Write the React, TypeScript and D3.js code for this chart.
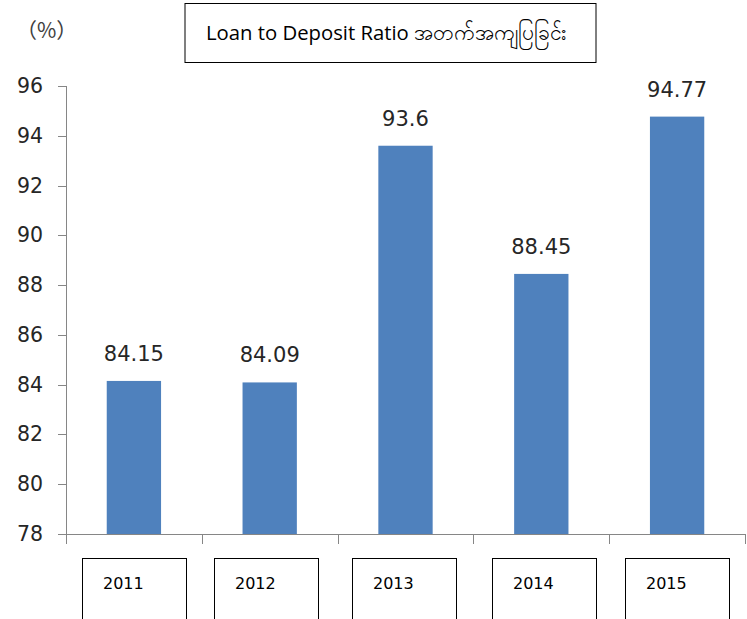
import React from "react";
import * as d3 from "d3";

const years = ["2011", "2012", "2013", "2014", "2015"];
const ratios = [84.15, 84.09, 93.6, 88.45, 94.77];
const valueLabels = ["84.15", "84.09", "93.6", "88.45", "94.77"];
const yTicks = [78, 80, 82, 84, 86, 88, 90, 92, 94, 96];
const titleEn = "Loan to Deposit Ratio ";
const titleMy = "အတက်အကျပြခြင်း";
const unitText = "（%）";

export default function App() {
  const W = 747, H = 619;
  const x = d3.scaleBand<string>().domain(years).range([66, 745]).paddingInner(0.6).paddingOuter(0.3);
  const y = d3.scaleLinear().domain([78, 96]).range([534, 86]);
  const step = x.step();
  const axisColor = "#868686";
  const font = "'DejaVu Sans', Verdana, sans-serif";
  const boundaries = d3.range(years.length + 1).map((i) => 66 + i * step);
  const boxCenters = [134, 266, 404, 544, 677];
  return (
    <svg width={W} height={H} style={{ position: "absolute", left: 0, top: 0, background: "#fff" }}>
      <rect x={0} y={0} width={W} height={H} fill="#fff" />
      {/* title */}
      <rect x={185} y={3.5} width={411} height={59} fill="#fff" stroke="#000" strokeWidth={1} />
      <text x={206} y={40} fontFamily="'Open Sans', sans-serif" fontSize={20.3} fill="#000">
        {titleEn}
        <tspan fontSize={21}>{titleMy}</tspan>
      </text>
      <text x={16} y={38} fontFamily="'Noto Sans CJK JP', sans-serif" fontSize={21} fill="#404040">{unitText}</text>
      {/* bars */}
      {years.map((yr, i) => (
        <rect key={yr} x={x(yr)} y={y(ratios[i])} width={x.bandwidth()} height={y(78) - y(ratios[i])} fill="#4F81BD" />
      ))}
      {/* value labels */}
      {years.map((yr, i) => (
        <text key={yr} x={(x(yr) as number) + x.bandwidth() / 2} y={y(ratios[i]) - 20} textAnchor="middle"
          fontFamily={font} fontSize={21} fill="#262626">{valueLabels[i]}</text>
      ))}
      {/* y axis */}
      <line x1={66.5} x2={66.5} y1={86} y2={534} stroke={axisColor} />
      {yTicks.map((t) => (
        <g key={t}>
          <line x1={58} x2={66.5} y1={Math.round(y(t)) + 0.5} y2={Math.round(y(t)) + 0.5} stroke={axisColor} />
          <text x={43} y={y(t) + 7} textAnchor="end" fontFamily={font} fontSize={20.5} fill="#262626">{t}</text>
        </g>
      ))}
      {/* x axis */}
      <line x1={66} x2={745} y1={534.5} y2={534.5} stroke={axisColor} />
      {boundaries.map((b, i) => (
        <line key={i} x1={Math.round(b) + 0.5} x2={Math.round(b) + 0.5} y1={534} y2={544} stroke={axisColor} />
      ))}
      {/* x label boxes */}
      {years.map((yr, i) => {
        const cx = boxCenters[i];
        return (
          <g key={yr}>
            <rect x={Math.round(cx - 52) + 0.5} y={558.5} width={104} height={70} fill="#fff" stroke="#000" />
            <text x={cx - 31} y={589} fontFamily={font} fontSize={16} fill="#000">{yr}</text>
          </g>
        );
      })}
    </svg>
  );
}
